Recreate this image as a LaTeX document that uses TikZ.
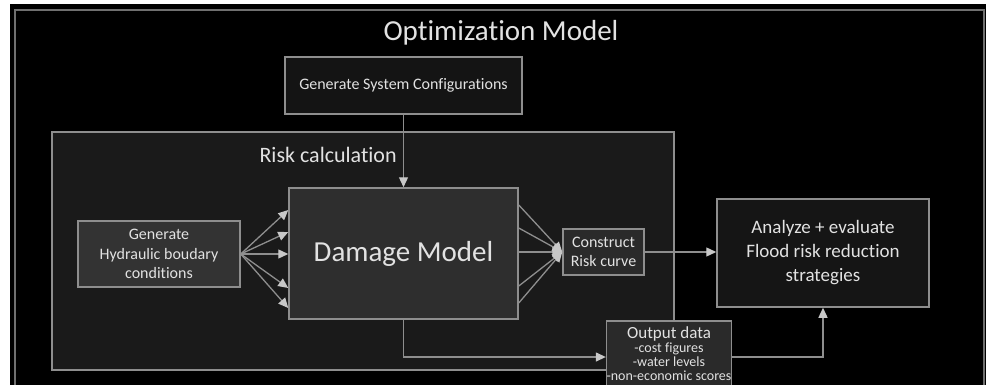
\documentclass[tikz,border=0pt]{standalone}
\usepackage{fontspec}
\setmainfont{Carlito}[Ligatures=NoCommon]
\usetikzlibrary{arrows.meta,calc}
\definecolor{txtc}{HTML}{E2E2E2}
\definecolor{linec}{HTML}{8E8E8E}
\definecolor{tipc}{HTML}{C8C8C8}
\definecolor{framec}{HTML}{707070}
\definecolor{riskfill}{HTML}{1A1A1A}
\definecolor{topfill}{HTML}{141414}
\definecolor{dmgfill}{HTML}{2E2E2E}
\definecolor{hydfill}{HTML}{333333}
\definecolor{confill}{HTML}{2A2A2A}
\definecolor{anafill}{HTML}{151515}
\tikzset{
  box/.style={draw=linec, line width=1.5pt, rectangle, inner sep=0pt, text=txtc, align=center},
  arr/.style={draw=linec, line width=1.3pt, -{Triangle[length=10pt,width=9pt,fill=tipc,color=tipc]}},
}
\begin{document}
\begin{tikzpicture}[x=1pt,y=-1pt]
\useasboundingbox (0,0) rectangle (987,385);
\clip (0,0) rectangle (987,385);
\fill[white] (0,0) rectangle (987,385);
\fill[black] (10,4) rectangle (986,385);
\draw[framec, line width=2pt] (15,400) -- (15,10) -- (984,10) -- (984,400);
\node[text=txtc, font=\fontsize{29}{34}\selectfont] (title) at (501,33) {Optimization Model};
% risk calculation area
\draw[linec, line width=1.5pt, fill=riskfill] (52,132) rectangle (674,370);
\node[text=txtc, anchor=base west, font=\fontsize{22}{26}\selectfont] (risklbl) at (256,162) {Risk calculation};
% nodes
\node[box, fill=topfill, minimum width=237, minimum height=57, font=\fontsize{16}{19}\selectfont] (top) at (403.5,85.5) {Generate System Configurations};
\node[box, fill=dmgfill, minimum width=229, minimum height=131, font=\fontsize{29}{34}\selectfont] (dmg) at (403.5,253.5) {Damage Model};
\node[box, fill=hydfill, minimum width=162, minimum height=66, font=\fontsize{16}{19.5}\selectfont] (hyd) at (159,254) {Generate\\Hydraulic boudary\\conditions};
\node[box, fill=confill, minimum width=81, minimum height=46, font=\fontsize{16}{19}\selectfont] (con) at (603.5,252) {Construct\\Risk curve};
\node[box, fill=anafill, minimum width=212, minimum height=108, font=\fontsize{19}{24}\selectfont] (ana) at (823,253) {Analyze + evaluate\\Flood risk reduction\\strategies};
\node[box, fill=confill, minimum width=122, anchor=north, inner ysep=6pt, font=\fontsize{14}{14}\selectfont] (out) at (669,320) {{\fontsize{17}{18}\selectfont Output data}\\-cost figures\\-water levels\\-non-economic scores};
% coordinates on damage model edges
\coordinate (dl1) at (dmg.west |- 0,210);
\coordinate (dl2) at (dmg.west |- 0,232);
\coordinate (dl3) at (dmg.west |- 0,254);
\coordinate (dl4) at (dmg.west |- 0,288);
\coordinate (dl5) at (dmg.west |- 0,308);
\coordinate (dr1) at (dmg.east |- 0,205);
\coordinate (dr2) at (dmg.east |- 0,228);
\coordinate (dr3) at (dmg.east |- 0,252);
\coordinate (dr4) at (dmg.east |- 0,286);
\coordinate (dr5) at (dmg.east |- 0,303);
% connectors
\draw[arr] (top.south) -- (dmg.north);
\foreach \i in {1,...,5} {\draw[arr] (hyd.east) -- (dl\i);}
\foreach \i in {1,...,5} {\draw[arr] (dr\i) -- (con.west);}
\draw[arr] (con.east) -- (con.east -| ana.west);
\draw[arr] (dmg.south) |- (out.west |- 0,357);
\draw[arr] (out.east |- 0,357) -| (ana.south);
\end{tikzpicture}
\end{document}
